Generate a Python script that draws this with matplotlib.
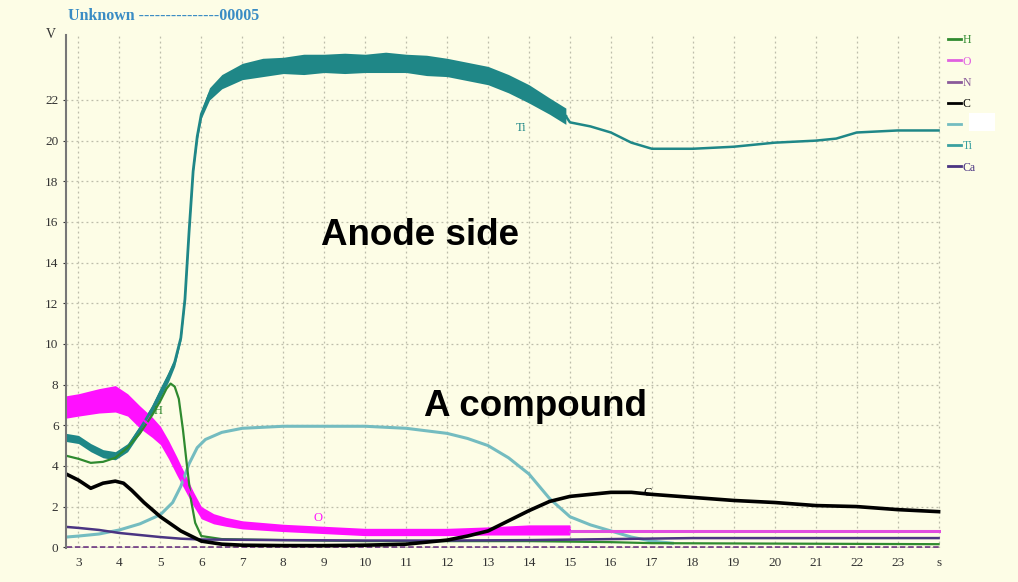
import matplotlib
matplotlib.use('Agg')
import matplotlib.pyplot as plt
from matplotlib.lines import Line2D
from matplotlib.patches import Rectangle
import numpy as np

bg = '#fdfde6'

# Ti (noisy part): time, centre, half width of the noise band
ti_x = [2.7, 3.0, 3.3, 3.6, 3.9, 4.2, 4.5, 4.8, 5.0, 5.2, 5.35, 5.5, 5.6, 5.7, 5.8, 5.9,
        6.0, 6.2, 6.5, 7.0, 7.5, 8.0, 8.5, 9.0, 9.5, 10.0, 10.5, 11.0, 11.5, 12.0, 12.5,
        13.0, 13.5, 14.0, 14.5, 14.9]
ti_y = [5.4, 5.3, 4.9, 4.6, 4.5, 4.9, 5.8, 6.8, 7.6, 8.4, 9.1, 10.3, 12.2, 15.5, 18.5, 20.2,
        21.3, 22.3, 22.9, 23.4, 23.6, 23.7, 23.75, 23.8, 23.8, 23.8, 23.85, 23.8, 23.7, 23.6, 23.4,
        23.2, 22.8, 22.3, 21.7, 21.2]
ti_w = [0.2, 0.2, 0.2, 0.2, 0.2, 0.2, 0.2, 0.2, 0.25, 0.25, 0.2, 0.15, 0.1, 0.1, 0.1, 0.15,
        0.2, 0.3, 0.35, 0.4, 0.45, 0.4, 0.5, 0.45, 0.5, 0.45, 0.5, 0.45, 0.5, 0.45, 0.45,
        0.45, 0.45, 0.45, 0.4, 0.4]
# Ti (smooth part)
ti2_x = [14.9, 15.0, 15.5, 16.0, 16.5, 17.0, 18.0, 19.0, 20.0, 21.0, 21.5, 22.0, 23.0, 24.0]
ti2_y = [21.2, 20.9, 20.7, 20.4, 19.9, 19.6, 19.6, 19.7, 19.9, 20.0, 20.1, 20.4, 20.5, 20.5]

# O (noisy part)
o_x = [2.7, 3.0, 3.5, 3.9, 4.2, 4.5, 4.8, 5.0, 5.2, 5.4, 5.6, 5.8, 6.0, 6.3, 6.6, 7.0,
       8.0, 9.0, 10.0, 11.0, 12.0, 13.0, 14.0, 15.0]
o_y = [6.9, 7.0, 7.2, 7.3, 7.0, 6.4, 5.9, 5.5, 4.8, 4.0, 3.2, 2.4, 1.7, 1.4, 1.25, 1.1,
       0.95, 0.85, 0.75, 0.75, 0.75, 0.8, 0.85, 0.85]
o_w = [0.55, 0.55, 0.6, 0.65, 0.55, 0.55, 0.5, 0.45, 0.45, 0.45, 0.4, 0.35, 0.3, 0.25, 0.22, 0.2,
       0.18, 0.18, 0.18, 0.18, 0.18, 0.2, 0.25, 0.25]
o2_x = [15.0, 24.0]
o2_y = [0.8, 0.8]

# H
h_x = [2.7, 3.0, 3.3, 3.6, 3.9, 4.2, 4.5, 4.8, 5.0, 5.15, 5.25, 5.35, 5.45, 5.55, 5.65,
       5.75, 5.85, 6.0, 6.5, 8.0, 10.0, 12.0, 14.0, 16.0, 17.0, 24.0]
h_y = [4.5, 4.35, 4.15, 4.2, 4.4, 4.9, 5.6, 6.5, 7.2, 7.8, 8.05, 7.9, 7.3, 5.8, 4.0,
       2.3, 1.2, 0.55, 0.4, 0.35, 0.3, 0.3, 0.3, 0.25, 0.2, 0.15]

# unlabelled light teal trace ("A compound")
a_x = [2.7, 3.0, 3.5, 4.0, 4.5, 5.0, 5.3, 5.5, 5.7, 5.9, 6.1, 6.5, 7.0, 8.0, 9.0, 10.0,
       11.0, 12.0, 12.5, 13.0, 13.5, 14.0, 14.5, 15.0, 15.5, 16.0, 16.5, 17.0, 17.5]
a_y = [0.5, 0.55, 0.65, 0.85, 1.15, 1.6, 2.2, 3.0, 4.1, 4.9, 5.3, 5.65, 5.85, 5.95, 5.95, 5.95,
       5.85, 5.6, 5.35, 5.0, 4.4, 3.6, 2.4, 1.5, 1.1, 0.8, 0.5, 0.3, 0.2]

# C
c_x = [2.7, 3.0, 3.3, 3.6, 3.9, 4.1, 4.3, 4.6, 5.0, 5.5, 6.0, 6.5, 7.0, 8.0, 9.0, 10.0,
       11.0, 12.0, 12.5, 13.0, 13.5, 14.0, 14.5, 15.0, 15.5, 16.0, 16.5, 17.0, 18.0, 19.0,
       20.0, 21.0, 22.0, 23.0, 24.0]
c_y = [3.6, 3.3, 2.9, 3.15, 3.25, 3.15, 2.8, 2.2, 1.5, 0.8, 0.3, 0.15, 0.1, 0.08, 0.08, 0.1,
       0.15, 0.35, 0.55, 0.8, 1.3, 1.8, 2.25, 2.5, 2.6, 2.7, 2.7, 2.6, 2.45, 2.3,
       2.2, 2.05, 2.0, 1.85, 1.75]

# N
n_x = [2.7, 3.0, 3.5, 4.0, 4.5, 5.0, 5.5, 6.0, 8.0, 10.0, 12.0, 14.0, 16.0, 18.0, 24.0]
n_y = [1.0, 0.95, 0.85, 0.7, 0.6, 0.5, 0.42, 0.38, 0.35, 0.33, 0.33, 0.35, 0.4, 0.45, 0.45]

# Ca
ca_x = [2.7, 24.0]
ca_y = [0.03, 0.03]

x_ticks = list(range(3, 25))
x_labels = [str(v) for v in range(3, 24)] + ['s']
y_ticks = list(range(0, 23, 2))

col_ti = '#1f8787'
col_a = '#74bcc0'
col_o = '#ff10ff'
col_h = '#2f8a2f'
col_n = '#4a3482'
col_ca = '#7a4a8a'

plt.rcParams['font.family'] = ['Liberation Serif', 'DejaVu Serif']

fig = plt.figure(figsize=(10.18, 5.82), dpi=100, facecolor=bg)
ax = fig.add_axes([0.065, 0.058, 0.859, 0.882], facecolor=bg)

ax.fill_between(ti_x, np.array(ti_y) - ti_w, np.array(ti_y) + ti_w, color=col_ti, lw=0)
ax.plot(ti_x, ti_y, color=col_ti, lw=2)
ax.plot(ti2_x, ti2_y, color=col_ti, lw=1.8)
ax.plot(a_x, a_y, color=col_a, lw=2.2)
ax.plot(h_x, h_y, color=col_h, lw=1.6)
ax.plot(ca_x, ca_y, color=col_ca, lw=2, ls=(0, (2, 1)))
ax.plot(n_x, n_y, color=col_n, lw=1.8)
ax.plot(o2_x, o2_y, color='#e04ce0', lw=2.2)
ax.fill_between(o_x, np.array(o_y) - o_w, np.array(o_y) + o_w, color=col_o, lw=0)
ax.plot(o_x, o_y, color=col_o, lw=1.5)
ax.plot(c_x, c_y, color='black', lw=2.6)

ax.set_xlim(2.7, 24.05)
ax.set_ylim(-0.05, 25.2)
ax.set_xticks(x_ticks)
ax.set_xticklabels(x_labels)
ax.set_yticks(y_ticks)
ax.tick_params(axis='both', labelsize=9.5, colors='#333333', length=2, width=0.8)
ax.tick_params(axis='x', length=0, pad=6)
ax.grid(True, color='#bdbdaa', ls=(0, (1.5, 2.5)), lw=0.9)
ax.set_axisbelow(True)
for s in ['top', 'right', 'bottom']:
    ax.spines[s].set_visible(False)
ax.spines['left'].set_color('#777777')
ax.spines['left'].set_linewidth(1.5)
ax.text(-0.012, 1.0, 'V', transform=ax.transAxes, ha='right', va='center',
        fontsize=10, color='#333333')

fig.text(0.067, 0.972, 'Unknown ---------------00005', color='#3a8cc4',
         fontsize=11.5, fontweight='bold', va='center')

# curve labels
ax.text(13.8, 20.6, 'Ti', color=col_ti, fontsize=9, ha='center', va='center')
ax.text(4.95, 6.7, 'H', color=col_h, fontsize=9, ha='center', va='center')
ax.text(8.85, 1.45, 'O', color=col_o, fontsize=9, ha='center', va='center')
ax.text(16.9, 2.65, 'C', color='black', fontsize=9, ha='center', va='center')

ax.text(11.35, 15.35, 'Anode side', family=['Liberation Sans', 'DejaVu Sans'],
        fontweight='bold', fontsize=26.5, ha='center', va='center', color='black')
ax.text(14.15, 6.9, 'A compound', family=['Liberation Sans', 'DejaVu Sans'],
        fontweight='bold', fontsize=26.5, ha='center', va='center', color='black')

handles = [Line2D([], [], color=c, lw=2) for c in
           [col_h, '#e060e0', '#8a5a9a', 'black', col_a, '#3aa0a0', col_n]]
labels = ['H', 'O', 'N', 'C', '', 'Ti', 'Ca']
leg = ax.legend(handles, labels, loc='upper left', bbox_to_anchor=(1.0, 1.015),
                frameon=False, fontsize=8.5, handlelength=1.1, handletextpad=0.15,
                labelspacing=0.78, labelcolor='linecolor', borderaxespad=0.2)

fig.patches.append(Rectangle((0.952, 0.775), 0.025, 0.03, transform=fig.transFigure,
                             facecolor='white', edgecolor='none'))

fig.savefig('out.png', dpi=100, facecolor=bg)
